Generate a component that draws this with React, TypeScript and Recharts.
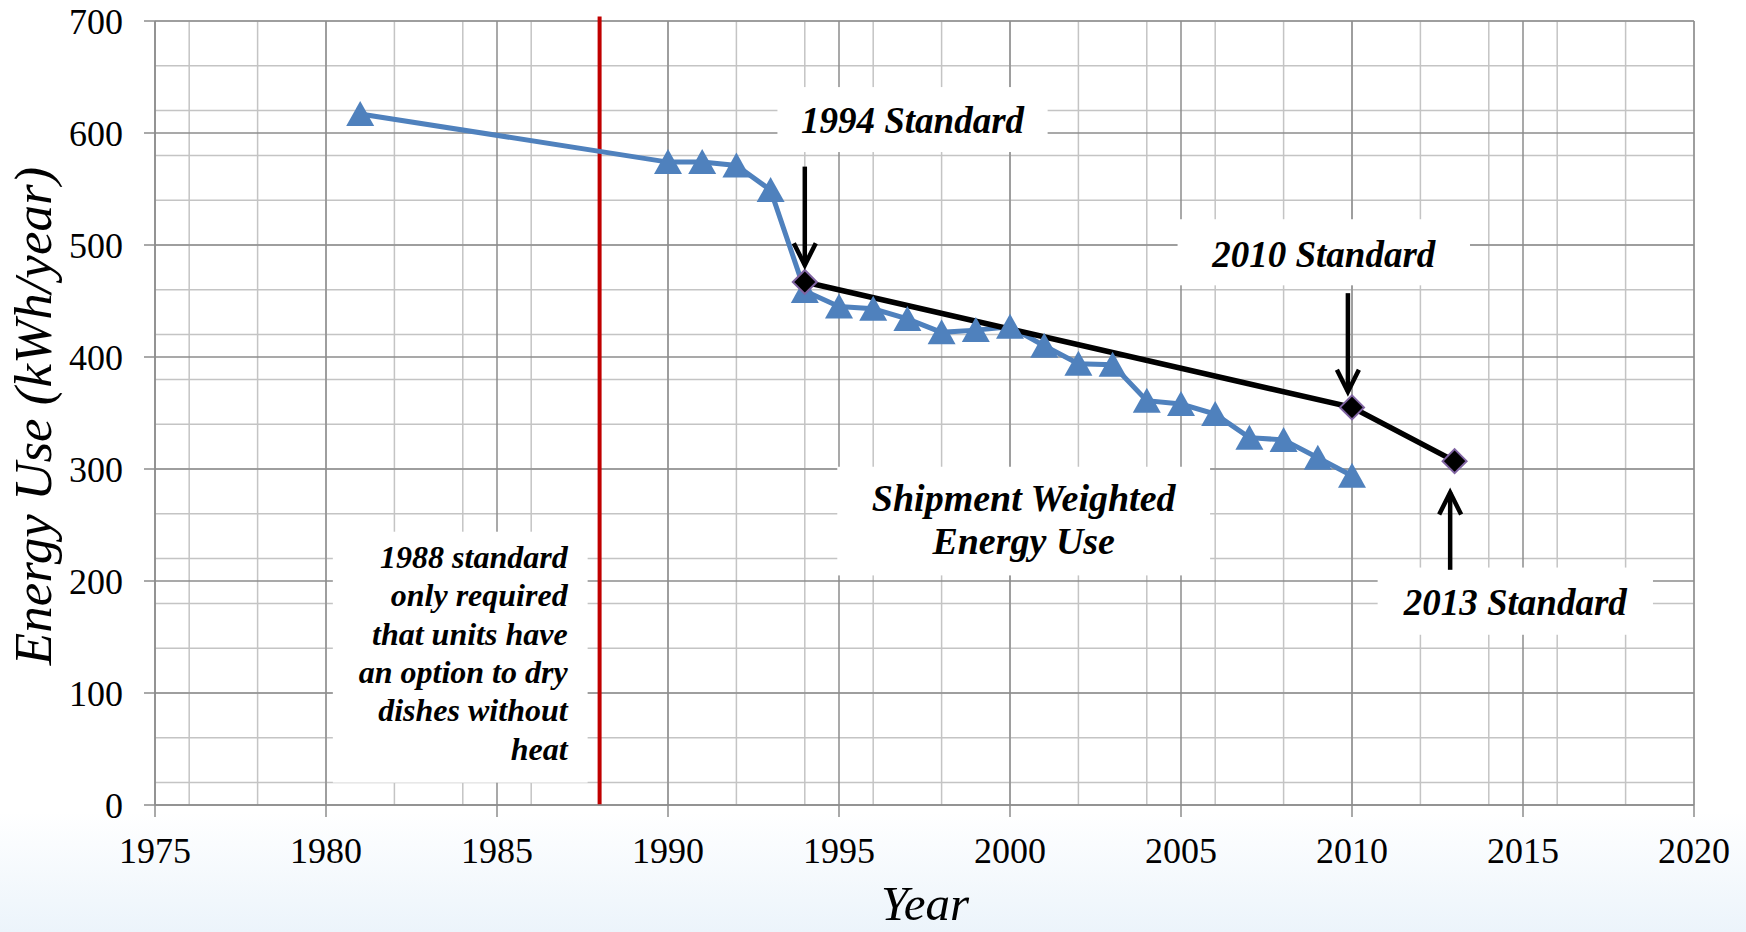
import {
  CartesianGrid,
  Label,
  Line,
  LineChart,
  ReferenceArea,
  ReferenceDot,
  ReferenceLine,
  XAxis,
  YAxis,
} from "recharts";

// shipment weighted energy use (kWh/year)
const shipmentYears = [
  1981, 1990, 1991, 1992, 1993, 1994, 1995, 1996, 1997, 1998, 1999, 2000, 2001, 2002,
  2003, 2004, 2005, 2006, 2007, 2008, 2009, 2010,
];
const shipmentUse = [
  617, 574, 574, 571, 549, 459, 445, 443, 434, 422, 424, 427, 410, 394, 393, 361, 358,
  349, 328, 326, 310, 294,
];

// federal standard levels
const standardYears = [1994, 2010, 2013];
const standardUse = [467, 355, 307];

const xTicks = [1975, 1980, 1985, 1990, 1995, 2000, 2005, 2010, 2015, 2020];
const yTicks = [0, 100, 200, 300, 400, 500, 600, 700];
const minorYears = Array.from({ length: 46 }, (_, i) => 1975 + i);
const minorUse = Array.from({ length: 36 }, (_, i) => i * 20);
const ruleYear = 1988;

const shipmentData = shipmentYears.map((year, i) => ({ year, use: shipmentUse[i] }));
const standardData = standardYears.map((year, i) => ({ year, use: standardUse[i] }));

const SERIF = '"Liberation Serif", "Times New Roman", serif';
const GRID_MINOR = "#c4c4c4";
const GRID_MAJOR = "#8c8c8c";

type Note = {
  x1: number;
  x2: number;
  y1: number;
  y2: number;
  lines: string[];
  size: number;
  first: number;
  gap: number;
  align: "middle" | "end";
};

const notes: Note[] = [
  { x1: 1993.2, x2: 2001.1, y1: 583, y2: 641, lines: ["1994 Standard"], size: 37, first: 46, gap: 0, align: "middle" },
  { x1: 2004.9, x2: 2013.45, y1: 464, y2: 523, lines: ["2010 Standard"], size: 37, first: 48, gap: 0, align: "middle" },
  { x1: 2010.75, x2: 2018.8, y1: 152, y2: 212, lines: ["2013 Standard"], size: 37, first: 47, gap: 0, align: "middle" },
  {
    x1: 1994.95, x2: 2005.85, y1: 205, y2: 302,
    lines: ["Shipment Weighted", "Energy Use"], size: 38, first: 44, gap: 43, align: "middle",
  },
  {
    x1: 1980.2, x2: 1987.65, y1: 20, y2: 244,
    lines: ["1988 standard", "only required", "that units have", "an option to dry", "dishes without", "heat"],
    size: 32, first: 36, gap: 38.4, align: "end",
  },
];

const arrows = [
  { x: 1994, from: 570, to: 482, dir: 1 },
  { x: 2009.88, from: 457, to: 369, dir: 1 },
  { x: 2012.87, from: 210, to: 279, dir: -1 },
];

function Triangle(props: any) {
  const { cx, cy } = props;
  if (cx == null || cy == null) return <g />;
  return (
    <path
      d={`M${cx},${cy - 13} L${cx + 14},${cy + 12} L${cx - 14},${cy + 12} Z`}
      fill="#4f81bd"
    />
  );
}

function Diamond(props: any) {
  const { cx, cy } = props;
  if (cx == null || cy == null) return <g />;
  return (
    <path
      d={`M${cx},${cy - 12} L${cx + 12},${cy} L${cx},${cy + 12} L${cx - 12},${cy} Z`}
      fill="#000"
      stroke="#8064a2"
      strokeWidth={2}
    />
  );
}

function noteShape(note: Note) {
  return (p: any) => {
    const { x, y, width, height } = p;
    const tx = note.align === "middle" ? x + width / 2 : x + width - 20;
    return (
      <g>
        <rect x={x} y={y} width={width} height={height} fill="#fff" />
        <text
          textAnchor={note.align}
          fontFamily={SERIF}
          fontStyle="italic"
          fontWeight="bold"
          fontSize={note.size}
          fill="#000"
        >
          {note.lines.map((line, i) => (
            <tspan key={i} x={tx} y={y + note.first + i * note.gap}>
              {line}
            </tspan>
          ))}
        </text>
      </g>
    );
  };
}

function headShape(dir: number) {
  return (p: any) => {
    const { cx, cy } = p;
    return (
      <polyline
        points={`${cx - 11},${cy - dir * 22} ${cx},${cy} ${cx + 11},${cy - dir * 22}`}
        fill="none"
        stroke="#000"
        strokeWidth={4.5}
      />
    );
  };
}

export default function App() {
  return (
    <div
      style={{
        position: "absolute",
        left: 0,
        top: 0,
        width: 1746,
        height: 932,
        background: "linear-gradient(to bottom, #ffffff 0px, #ffffff 812px, #ecf4fb 932px)",
      }}
    >
      <LineChart width={1746} height={932} margin={{ top: 21, right: 52, bottom: 0, left: 0 }}>
        <CartesianGrid
          horizontalValues={minorUse}
          verticalValues={minorYears}
          stroke={GRID_MINOR}
          strokeWidth={1.5}
        />
        <CartesianGrid
          horizontalValues={yTicks}
          verticalValues={xTicks}
          stroke={GRID_MAJOR}
          strokeWidth={1.5}
        />
        <XAxis
          type="number"
          dataKey="year"
          domain={[1975, 2020]}
          ticks={xTicks}
          height={127}
          tickSize={12}
          tickMargin={20}
          axisLine={{ stroke: GRID_MAJOR, strokeWidth: 1.5 }}
          tickLine={{ stroke: GRID_MAJOR, strokeWidth: 1.5 }}
          tick={{ fontSize: 36, fill: "#000", fontFamily: SERIF }}
          label={
            <Label
              content={() => (
                <text
                  x={925}
                  y={920}
                  textAnchor="middle"
                  fontFamily={SERIF}
                  fontStyle="italic"
                  fontSize={49}
                  fill="#000"
                >
                  Year
                </text>
              )}
            />
          }
        />
        <YAxis
          type="number"
          domain={[0, 700]}
          ticks={yTicks}
          width={155}
          tickSize={11}
          tickMargin={21}
          axisLine={{ stroke: GRID_MAJOR, strokeWidth: 1.5 }}
          tickLine={{ stroke: GRID_MAJOR, strokeWidth: 1.5 }}
          tick={{ fontSize: 36, fill: "#000", fontFamily: SERIF }}
          label={
            <Label
              content={() => (
                <text
                  transform="translate(51, 416) rotate(-90)"
                  textAnchor="middle"
                  fontFamily={SERIF}
                  fontStyle="italic"
                  fontSize={53}
                  fill="#000"
                >
                  Energy Use (kWh/year)
                </text>
              )}
            />
          }
        />
        <ReferenceLine
          segment={[
            { x: ruleYear, y: 0 },
            { x: ruleYear, y: 704 },
          ]}
          ifOverflow="visible"
          stroke="#c00000"
          strokeWidth={4}
        />
        {notes.map((n, i) => (
          <ReferenceArea
            key={`note-${i}`}
            x1={n.x1}
            x2={n.x2}
            y1={n.y1}
            y2={n.y2}
            shape={noteShape(n)}
          />
        ))}
        <Line
          data={shipmentData}
          dataKey="use"
          type="linear"
          stroke="#4f81bd"
          strokeWidth={5}
          dot={<Triangle />}
          activeDot={false}
          isAnimationActive={false}
        />
        <Line
          data={standardData}
          dataKey="use"
          type="linear"
          stroke="#000"
          strokeWidth={5.5}
          dot={<Diamond />}
          activeDot={false}
          isAnimationActive={false}
        />
        {arrows.map((a, i) => (
          <ReferenceLine
            key={`shaft-${i}`}
            segment={[
              { x: a.x, y: a.from },
              { x: a.x, y: a.to },
            ]}
            stroke="#000"
            strokeWidth={4.5}
          />
        ))}
        {arrows.map((a, i) => (
          <ReferenceDot
            key={`head-${i}`}
            x={a.x}
            y={a.to}
            r={1}
            shape={headShape(a.dir)}
          />
        ))}
      </LineChart>
    </div>
  );
}
